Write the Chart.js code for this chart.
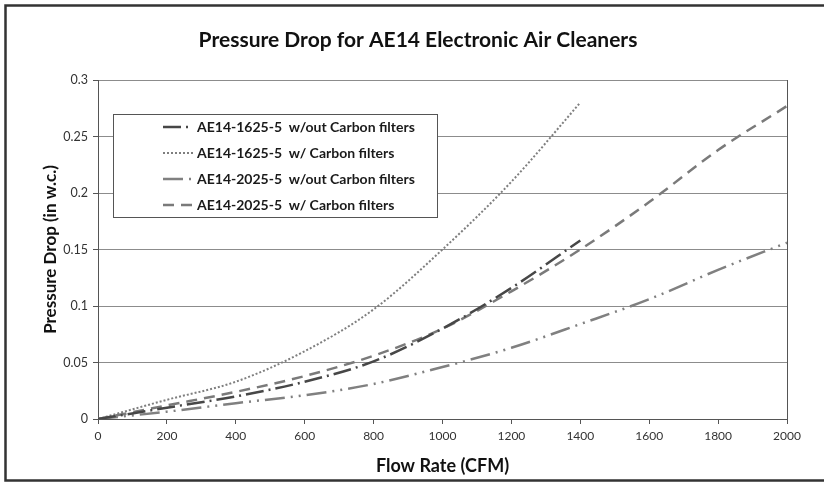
<!DOCTYPE html>
<html>
<head>
<meta charset="utf-8">
<script src="https://cdn.jsdelivr.net/npm/chart.js@4.4.0/dist/chart.umd.min.js"></script>
<style>
    html, body { margin: 0; padding: 0; background: #ffffff; }
    #wrap { width: 824px; height: 483px; position: relative; }
</style>
</head>
<body>
<div id="wrap"><canvas id="chart"></canvas></div>
<script>
// 数据
const flow1625 = [0, 200, 400, 600, 800, 1000, 1200, 1400];
const flow2025 = [0, 200, 400, 600, 800, 1000, 1200, 1400, 1600, 1800, 2000];
const drop1625NoCarbon = [0, 0.010, 0.020, 0.033, 0.051, 0.080, 0.116, 0.158];
const drop1625Carbon = [0, 0.017, 0.033, 0.060, 0.097, 0.150, 0.210, 0.280];
const drop2025NoCarbon = [0, 0.0065, 0.014, 0.021, 0.031, 0.046, 0.063, 0.084, 0.106, 0.132, 0.156];
const drop2025Carbon = [0, 0.012, 0.024, 0.038, 0.056, 0.080, 0.113, 0.150, 0.192, 0.238, 0.277];
const seriesNames = [
    'AE14-1625-5  w/out Carbon filters',
    'AE14-1625-5  w/ Carbon filters',
    'AE14-2025-5  w/out Carbon filters',
    'AE14-2025-5  w/ Carbon filters'
];
const xTickLabels = ['0', '200', '400', '600', '800', '1000', '1200', '1400', '1600', '1800', '2000'];
const yTickLabels = ['0', '0.05', '0.1', '0.15', '0.2', '0.25', '0.3'];
const chartTitle = 'Pressure Drop for AE14 Electronic Air Cleaners';

const FONT = 'Lato, "Open Sans", sans-serif';

function toPoints(xs, ys) {
    return xs.map((x, i) => ({ x: x, y: ys[i] }));
}

// 标题（比绘图区中心略偏右）
const topTitle = {
    id: 'topTitle',
    afterDraw(chart) {
        const ctx = chart.ctx;
        ctx.save();
        ctx.font = 'bold 21px ' + FONT;
        ctx.fillStyle = '#111111';
        ctx.textAlign = 'center';
        ctx.textBaseline = 'middle';
        ctx.fillText(chartTitle, 418, 40);
        ctx.restore();
    }
};

// 图例画在绘图区内部
const boxLegend = {
    id: 'boxLegend',
    afterDraw(chart) {
        const ctx = chart.ctx;
        const area = chart.chartArea;
        const x0 = area.left + 15, y0 = area.top + 34, w = 324, h = 103;
        ctx.save();
        ctx.fillStyle = '#ffffff';
        ctx.fillRect(x0, y0, w, h);
        ctx.strokeStyle = '#555555';
        ctx.lineWidth = 1;
        ctx.strokeRect(x0 + 0.5, y0 + 0.5, w, h);
        ctx.font = 'bold 14px ' + FONT;
        ctx.textBaseline = 'middle';
        ctx.fillStyle = '#1a1a1a';
        chart.data.datasets.forEach((ds, i) => {
            const y = y0 + 13 + i * 26;
            ctx.save();
            ctx.strokeStyle = ds.borderColor;
            ctx.lineWidth = ds.borderWidth;
            ctx.setLineDash(ds.borderDash || []);
            ctx.beginPath();
            ctx.moveTo(x0 + 50, y);
            ctx.lineTo(x0 + 80, y);
            ctx.stroke();
            ctx.restore();
            ctx.fillText(ds.label, x0 + 84, y);
        });
        ctx.restore();
    }
};

// 外框和右边框
const frames = {
    id: 'frames',
    afterDraw(chart) {
        const ctx = chart.ctx;
        const a = chart.chartArea;
        ctx.save();
        ctx.strokeStyle = '#555555';
        ctx.lineWidth = 1;
        ctx.beginPath();
        ctx.moveTo(Math.round(a.right) + 0.5, a.top);
        ctx.lineTo(Math.round(a.right) + 0.5, a.bottom);
        ctx.stroke();
        ctx.strokeStyle = '#333333';
        ctx.lineWidth = 2.5;
        ctx.beginPath();
        ctx.moveTo(827, 5.5);
        ctx.lineTo(5.5, 5.5);
        ctx.lineTo(5.5, 480.5);
        ctx.lineTo(827, 480.5);
        ctx.stroke();
        ctx.restore();
    }
};

const ctx = document.getElementById('chart').getContext('2d');
new Chart(ctx, {
    type: 'line',
    data: {
        datasets: [{
            label: seriesNames[0],
            data: toPoints(flow1625, drop1625NoCarbon),
            borderColor: '#474747',
            borderWidth: 2.5,
            borderDash: [18, 5, 2, 5]
        }, {
            label: seriesNames[1],
            data: toPoints(flow1625, drop1625Carbon),
            borderColor: '#7f7f7f',
            borderWidth: 2,
            borderDash: [2, 2]
        }, {
            label: seriesNames[2],
            data: toPoints(flow2025, drop2025NoCarbon),
            borderColor: '#808080',
            borderWidth: 2.5,
            borderDash: [20, 6, 2, 6, 2, 6]
        }, {
            label: seriesNames[3],
            data: toPoints(flow2025, drop2025Carbon),
            borderColor: '#7a7a7a',
            borderWidth: 2.5,
            borderDash: [11, 7]
        }]
    },
    options: {
        responsive: true,
        maintainAspectRatio: false,
        animation: false,
        devicePixelRatio: 1,
        layout: { padding: { left: 0, right: 37, top: 80, bottom: 0 } },
        elements: {
            point: { radius: 0 },
            line: { cubicInterpolationMode: 'monotone', fill: false }
        },
        plugins: {
            legend: { display: false },
            tooltip: { enabled: false },
            title: { display: false }
        },
        scales: {
            x: {
                type: 'linear',
                min: 0,
                max: 2000,
                afterFit(scale) { scale.height = 64; },
                border: { display: true, color: '#555555', width: 1 },
                grid: { drawOnChartArea: false, drawTicks: true, tickLength: 5, tickColor: '#555555' },
                ticks: {
                    stepSize: 200,
                    color: '#333333',
                    padding: 5,
                    maxRotation: 0,
                    font: { family: FONT, size: 12 },
                    callback: (v, i) => xTickLabels[i]
                },
                title: {
                    display: true,
                    text: 'Flow Rate (CFM)',
                    color: '#111111',
                    font: { family: FONT, size: 18, weight: 'bold', lineHeight: 1.2 },
                    padding: { top: 0, bottom: 6 }
                }
            },
            y: {
                min: 0,
                max: 0.3,
                afterFit(scale) { scale.width = 98; },
                border: { display: true, color: '#555555', width: 1 },
                grid: { color: '#8c8c8c', lineWidth: 1, tickLength: 5, tickColor: '#555555' },
                ticks: {
                    stepSize: 0.05,
                    color: '#333333',
                    padding: 5,
                    font: { family: FONT, size: 12.5 },
                    callback: (v, i) => yTickLabels[i]
                },
                title: {
                    display: true,
                    text: 'Pressure Drop (in w.c.)',
                    color: '#111111',
                    font: { family: FONT, size: 17, weight: 'bold', lineHeight: 1.2 },
                    padding: { top: 40, bottom: 0 }
                }
            }
        }
    },
    plugins: [topTitle, boxLegend, frames]
});
</script>
</body>
</html>
